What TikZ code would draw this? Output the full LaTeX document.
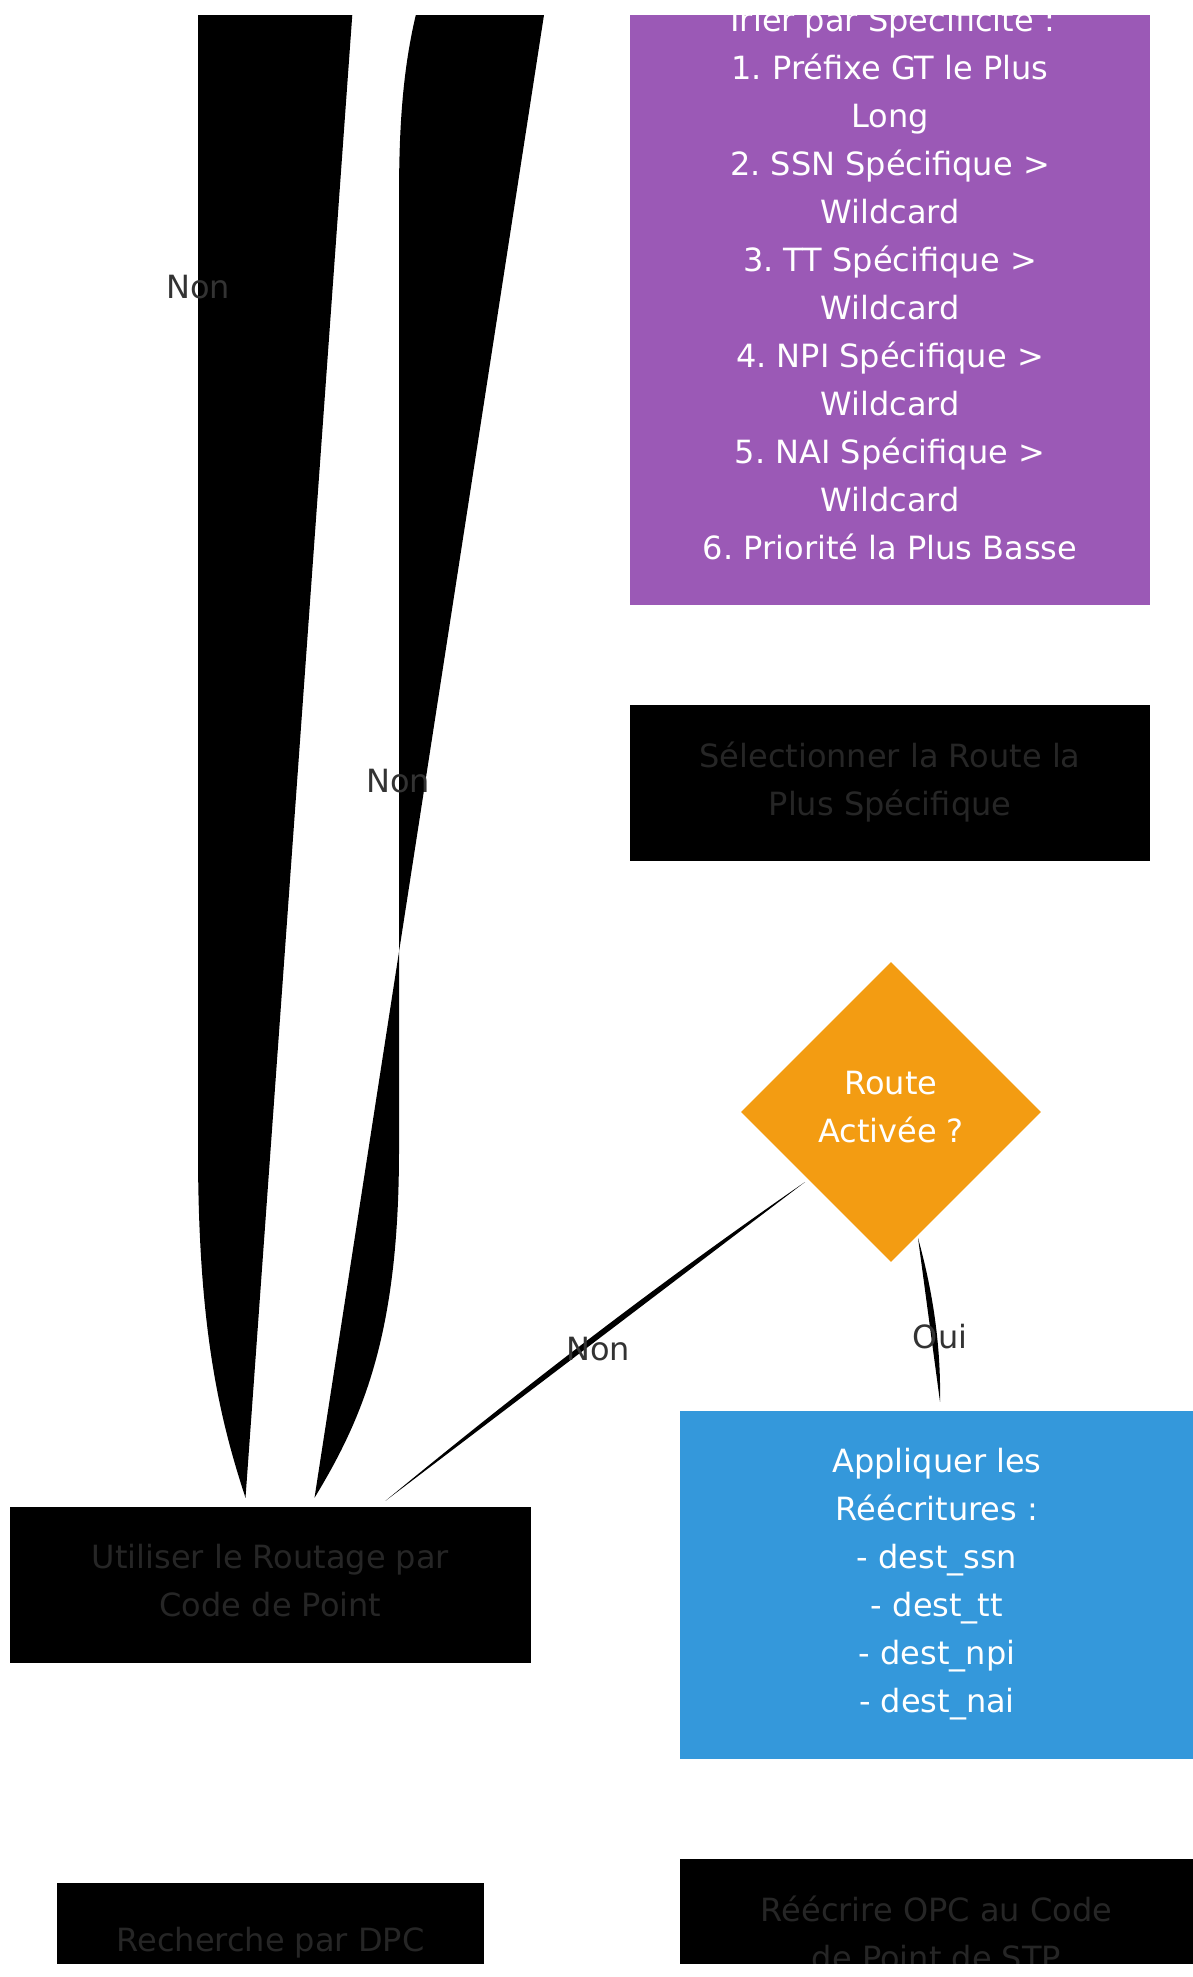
\documentclass[tikz,border=0pt]{standalone}
\usepackage{fontspec}
\setmainfont{DejaVu Sans}
\usepackage{xcolor}
\usetikzlibrary{shapes.geometric, positioning, calc}

\definecolor{sortpurple}{HTML}{9B59B6}
\definecolor{rewriteblue}{HTML}{3498DB}
\definecolor{checkorange}{HTML}{F39C12}
\definecolor{darktext}{HTML}{262626}
\definecolor{labeltext}{HTML}{333333}
\newcommand{\linestrut}{\rule[-9.4pt]{0pt}{48pt}}
\frenchspacing

\begin{document}
\begin{tikzpicture}[x=1pt, y=-1pt,
    every node/.style={font=\fontsize{32}{48}\selectfont, align=center, inner sep=0pt,
      execute at begin node=\linestrut, execute at end node=\linestrut},
    darkbox/.style={rectangle, fill=black, text=darktext, minimum height=156},
    sortbox/.style={rectangle, fill=sortpurple, text=white, minimum width=520, minimum height=636},
    applybox/.style={rectangle, fill=rewriteblue, text=white, minimum width=514, minimum height=348},
    decision/.style={diamond, aspect=1, fill=checkorange, text=white, minimum width=300, minimum height=300},
    edgefill/.style={fill=black},
    edgelabel/.style={text=labeltext}]
    %\draw[step=100, gray, very thin] (0, 0) grid (1193, 1977);

    \useasboundingbox (0, 0) rectangle (1193, 1977);
    \clip (0, 16) rectangle (1193, 1963);

    \node[sortbox] (sort) at (890, 287) {Trier par Spécificité :\\1. Préfixe GT le Plus\\Long\\2. SSN Spécifique >\\Wildcard\\3. TT Spécifique >\\Wildcard\\4. NPI Spécifique >\\Wildcard\\5. NAI Spécifique >\\Wildcard\\6. Priorité la Plus Basse};
    \node[darkbox, minimum width=520] (select) at (890, 783) {Sélectionner la Route la\\Plus Spécifique};
    \node[decision] (route) at (891, 1112) {Route\\Activée ?};
    \node[applybox] (apply) at (937, 1585) {Appliquer les\\Réécritures :\\- dest\_ssn\\- dest\_tt\\- dest\_npi\\- dest\_nai};
    \node[darkbox, minimum width=513] (rewrite) at (936.5, 1937) {Réécrire OPC au Code\\de Point de STP};
    \node[darkbox, minimum width=521] (util) at (270.5, 1585) {Utiliser le Routage par\\Code de Point};
    \node[darkbox, minimum width=427, minimum height=108] (dpc) at (270.5, 1937) {Recherche par DPC};

    \coordinate (topA) at (380, -370);
    \coordinate (endA) at ($(util.north)+(-25, -9)$);
    \coordinate (topB) at (585, -250);
    \coordinate (endB) at ($(util.north)+(44, -9)$);
    \coordinate (startC) at ($(route.center)+(-86, 70)$);
    \coordinate (endC) at ($(util.north)+(115, -6)$);
    \coordinate (startD) at ($(route.center)+(27, 126)$);
    \coordinate (endD) at ($(apply.north)+(3, -9)$);

    \fill[edgefill] (topA) .. controls (198, -250) and (198, -150) .. (198, 0) -- (198, 1150) .. controls (198, 1330) and (220, 1420) .. (endA) -- cycle;
    \fill[edgefill] (topB) .. controls (412, -100) and (399, 50) .. (399, 200) -- (399, 1150) .. controls (399, 1330) and (365, 1415) .. (endB) -- cycle;
    \fill[edgefill] (startC) .. controls (660, 1282) and (521, 1389) .. (endC) -- cycle;
    \fill[edgefill] (startD) .. controls (933, 1292) and (941, 1346) .. (endD) -- cycle;

    \node[edgelabel] (nonA) at (198, 283.5) {Non};
    \node[edgelabel] (nonB) at (398, 778) {Non};
    \node[edgelabel] (nonC) at (598, 1345.5) {Non};
    \node[edgelabel] (oui) at (940, 1333.5) {Oui};

\end{tikzpicture}
\end{document}
